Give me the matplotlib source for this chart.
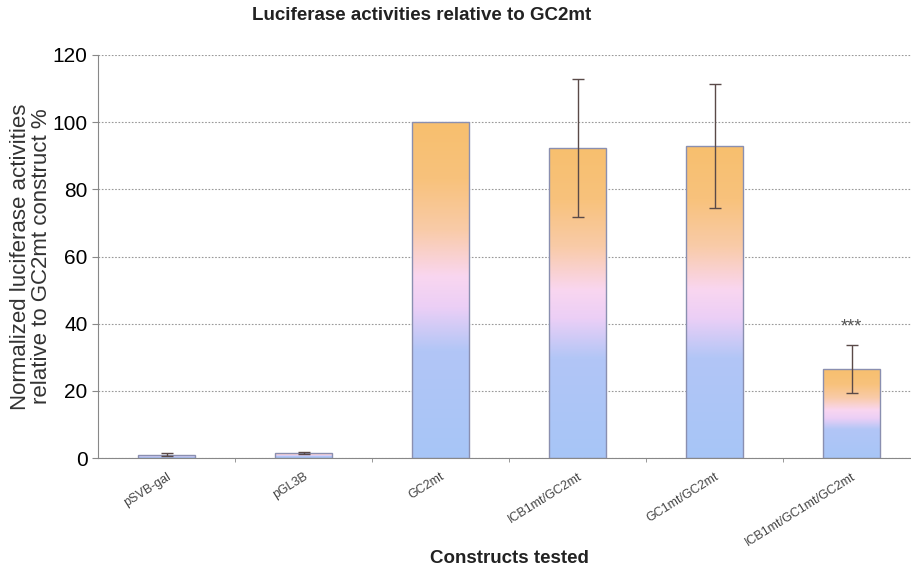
import numpy as np
from matplotlib import pyplot as plt
from matplotlib.colors import LinearSegmentedColormap
from matplotlib.patches import Rectangle

constructs = ["pSVB-gal", "pGL3B", "GC2mt", "ICB1mt/GC2mt", "GC1mt/GC2mt", "ICB1mt/GC1mt/GC2mt"]
activity = [1.0, 1.5, 100.0, 92.4, 92.9, 26.5]
errors = [0.5, 0.4, 0.0, 20.5, 18.4, 7.1]
yticks = [0, 20, 40, 60, 80, 100, 120]

plt.rcParams['font.family'] = ['Liberation Sans', 'DejaVu Sans']

grad = LinearSegmentedColormap.from_list("bar", [
    (0.0, "#a7c5f7"), (0.32, "#b2c6f6"), (0.45, "#eccff6"), (0.54, "#f9d6f0"),
    (0.68, "#f9cba8"), (0.83, "#f8c27c"), (1.0, "#f7bf6e")])

fig = plt.figure(figsize=(9.11, 5.73), dpi=100)
ax = fig.add_axes([98 / 911, 1 - 458 / 573, 822 / 911, 403 / 573])

x = np.arange(len(constructs))
w = 0.41
bars = ax.bar(x, activity, width=w, color="none", edgecolor="#8a8fb0", linewidth=1.0, zorder=3)
g = np.linspace(0, 1, 256).reshape(-1, 1)
for b in bars:
    x0, h = b.get_x(), b.get_height()
    im = ax.imshow(g, cmap=grad, origin="lower", aspect="auto",
                   extent=[x0, x0 + w, 0, h], zorder=2)
    im.set_clip_path(Rectangle((x0, 0), w, h, transform=ax.transData))

for xi, v, e in zip(x, activity, errors):
    if e > 0:
        ax.errorbar(xi, v, yerr=e, fmt="none", ecolor="#5a4a48", elinewidth=1.0,
                    capsize=4, capthick=1.0, zorder=4)

ax.text(5, 36.5, "***", ha="center", va="bottom", fontsize=13, color="#555555")

ax.set_xlim(-0.5, 5.5)
ax.set_ylim(0, 120)
ax.set_yticks(yticks)
ax.tick_params(axis="y", labelsize=15, direction="out", length=4, color="#888888")
ax.set_xticks(x)
ax.set_xticklabels(constructs, rotation=32, ha="right", rotation_mode="anchor",
                   fontsize=9, color="#444444")
ax.tick_params(axis="x", which="major", length=0, pad=9)
ax.set_xticks(x[:-1] + 0.5, minor=True)
ax.tick_params(axis="x", which="minor", length=3, color="#888888")

ax.yaxis.grid(True, linestyle=(0, (1.5, 1.5)), color="#999999", linewidth=0.8, zorder=0)
ax.set_axisbelow(True)
for s in ["top", "right"]:
    ax.spines[s].set_visible(False)
ax.spines["left"].set_color("#888888")
ax.spines["bottom"].set_color("#888888")

ax.set_ylabel("Normalized luciferase activities\nrelative to GC2mt construct %", fontsize=16,
              color="#333333", labelpad=0, linespacing=1.0)
ax.set_xlabel("Constructs tested", fontsize=13.5, fontweight="bold", color="#222222", labelpad=1)
fig.text(422 / 911, 1 - 15 / 573, "Luciferase activities relative to GC2mt", ha="center",
         va="center", fontsize=13.5, fontweight="bold", color="#222222")

plt.savefig("out.png", dpi=100)
